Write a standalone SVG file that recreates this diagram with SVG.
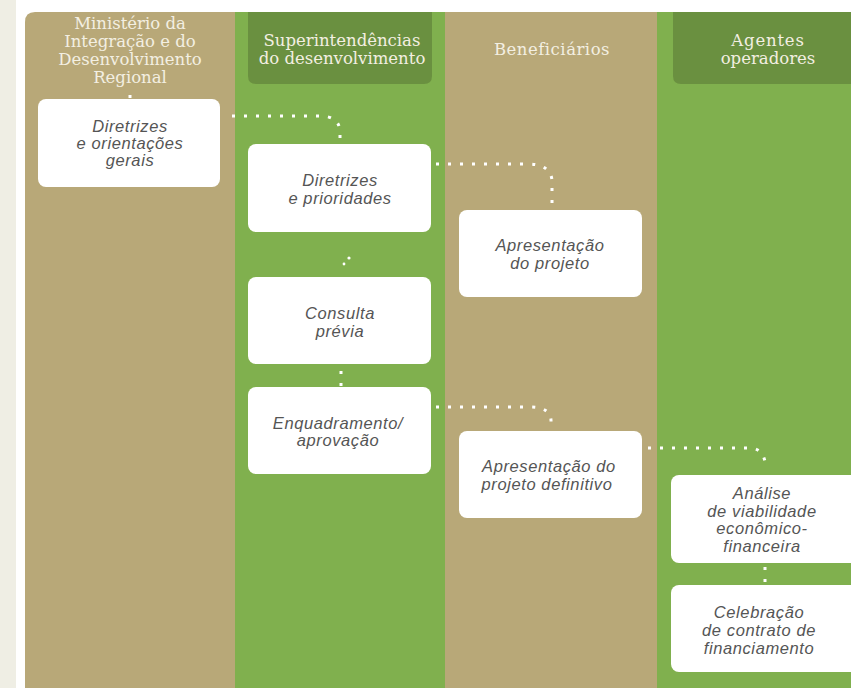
<svg xmlns="http://www.w3.org/2000/svg" width="851" height="688" viewBox="0 0 851 688">
<style>
.hd{font-family:"DejaVu Serif","Liberation Serif",serif;font-size:16.5px;fill:#f3efe2;text-anchor:middle}
.bx{fill:#ffffff}
.t{font-family:"Liberation Sans",Arial,sans-serif;font-style:italic;font-size:16.5px;letter-spacing:0.6px;fill:#555555;text-anchor:middle}
.c{fill:none;stroke:#ffffff;stroke-width:3;stroke-dasharray:3 9;stroke-linecap:butt}
.d{fill:#ffffff}
</style>
<rect x="0" y="0" width="851" height="688" fill="#ffffff"/>
<rect x="0" y="0" width="16" height="688" fill="#efeee4"/>
<g id="lanes">
<path d="M25,22 Q25,12 35,12 L235,12 L235,688 L25,688 Z" fill="#b8a878"/>
<rect x="235" y="12" width="210" height="676" fill="#80b04e"/>
<rect x="445" y="12" width="212" height="676" fill="#b8a878"/>
<rect x="657" y="12" width="194" height="676" fill="#80b04e"/>
<path d="M248,12 L432,12 L432,76 Q432,84 424,84 L256,84 Q248,84 248,76 Z" fill="#6a9040"/>
<path d="M673,12 L851,12 L851,84 L681,84 Q673,84 673,76 Z" fill="#6a9040"/>
</g>
<g id="headers">
<text class="hd" x="130" y="29">Ministério da</text>
<text class="hd" x="130" y="47">Integração e do</text>
<text class="hd" x="130" y="65">Desenvolvimento</text>
<text class="hd" x="130" y="83">Regional</text>
<text class="hd" x="342" y="46">Superintendências</text>
<text class="hd" x="342" y="64">do desenvolvimento</text>
<text class="hd" x="552" y="55" letter-spacing="0.5">Beneficiários</text>
<text class="hd" x="768" y="46" letter-spacing="0.8">Agentes</text>
<text class="hd" x="768" y="64">operadores</text>
</g>
<g id="connectors">
<path class="c" d="M130,95 L130,99"/>
<path class="c" d="M232,116 L320,116 Q338,116 340,130 L340,142"/>
<path class="c" d="M436,164 L528,164 Q550,164 552,180 L552,208"/>
<circle class="d" cx="349" cy="258" r="1.6"/>
<circle class="d" cx="344" cy="264" r="1.4"/>
<path class="c" d="M341,371 L341,386"/>
<path class="c" d="M436,407 L530,407 Q550,407 551,420 L551,429"/>
<path class="c" d="M648,448 L752,448 Q763,450 765,462"/>
<path class="c" d="M765,567 L765,583"/>
</g>
<g id="n1"><rect class="bx" x="38" y="99" width="182" height="88" rx="8"/>
<text class="t" x="130" y="132">Diretrizes</text><text class="t" x="130" y="149">e orientações</text><text class="t" x="130" y="166">gerais</text></g>
<g id="n2"><rect class="bx" x="248" y="144" width="183" height="88" rx="8"/>
<text class="t" x="340" y="186">Diretrizes</text><text class="t" x="340" y="204">e prioridades</text></g>
<g id="n3"><rect class="bx" x="459" y="210" width="183" height="87" rx="8"/>
<text class="t" x="550" y="251">Apresentação</text><text class="t" x="550" y="269">do projeto</text></g>
<g id="n4"><rect class="bx" x="248" y="277" width="183" height="87" rx="8"/>
<text class="t" x="340" y="319">Consulta</text><text class="t" x="340" y="337">prévia</text></g>
<g id="n5"><rect class="bx" x="248" y="387" width="183" height="87" rx="8"/>
<text class="t" x="338" y="429">Enquadramento/</text><text class="t" x="338" y="446">aprovação</text></g>
<g id="n6"><rect class="bx" x="459" y="431" width="183" height="87" rx="8"/>
<text class="t" x="549" y="472">Apresentação  do</text><text class="t" x="547" y="490">projeto  definitivo</text></g>
<g id="n7"><rect class="bx" x="671" y="475" width="190" height="88" rx="8"/>
<text class="t" x="762" y="499">Análise</text><text class="t" x="762" y="517">de viabilidade</text><text class="t" x="762" y="534">econômico-</text><text class="t" x="762" y="552">financeira</text></g>
<g id="n8"><rect class="bx" x="671" y="585" width="190" height="87" rx="8"/>
<text class="t" x="759" y="618">Celebração</text><text class="t" x="759" y="636">de contrato  de</text><text class="t" x="759" y="654">financiamento</text></g>
</svg>
